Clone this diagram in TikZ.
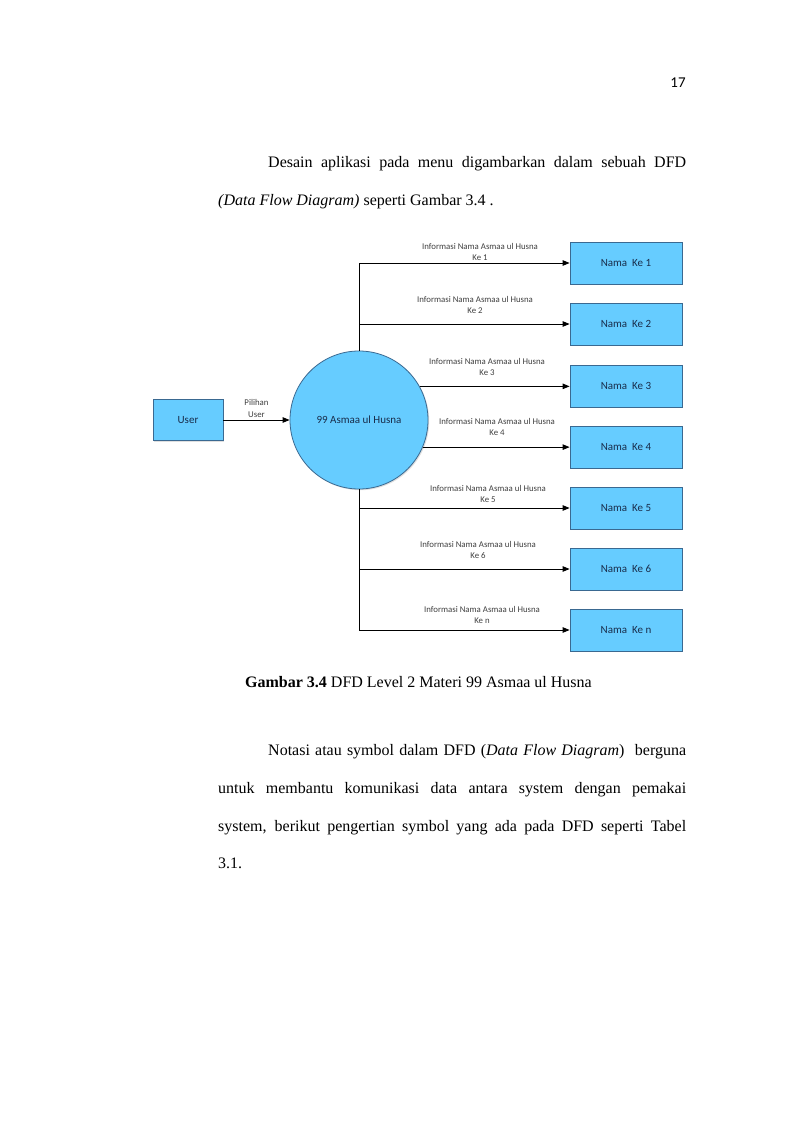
\documentclass[tikz,border=0pt]{standalone}
\usepackage{fontspec}
\setmainfont{Liberation Serif}
\newfontfamily\calibri{Carlito}
\usetikzlibrary{arrows.meta,shadows}
\definecolor{dfdfill}{RGB}{102,204,255}
\definecolor{dfdline}{RGB}{58,105,145}
\definecolor{dfdtext}{RGB}{25,45,75}
\tikzset{
  entity/.style={draw=dfdline,fill=dfdfill,line width=0.8pt,minimum width=112pt,minimum height=42pt,
    font=\calibri\fontsize{11}{13}\selectfont,text=dfdtext,
    drop shadow={shadow xshift=1.2pt,shadow yshift=-1.2pt,opacity=0.25}},
  process/.style={circle,draw=dfdline,fill=dfdfill,line width=0.8pt,minimum size=138pt,inner sep=0pt,
    font=\calibri\fontsize{11}{13}\selectfont,text=dfdtext,
    drop shadow={shadow xshift=1.2pt,shadow yshift=-1.2pt,opacity=0.25}},
  flow/.style={-{Triangle[length=7pt,width=5.5pt]},line width=0.9pt},
  flowlabel/.style={font=\calibri\fontsize{8.8}{11.5}\selectfont,text=black!75,align=center,inner sep=1pt},
  body/.style={anchor=base west,inner sep=0pt,font=\fontsize{16}{19}\selectfont},
  pagenum/.style={anchor=base,inner sep=0pt,font=\calibri\fontsize{15}{18}\selectfont}
}
\begin{document}
\begin{tikzpicture}[x=1pt,y=-1pt]
\useasboundingbox[fill=white] (0,0) rectangle (800,1132);
\node[pagenum] (hal) at (678,88) {17};

\node[body] (para1a) at (268,167) {\makebox[418pt][s]{Desain aplikasi pada menu digambarkan dalam sebuah DFD}};
\node[body] (para1b) at (218,205) {\textit{(Data Flow Diagram)} seperti Gambar 3.4 .};

% DFD level 2
\node[entity,minimum width=70pt,minimum height=41pt] (user) at (188,420) {User};
\node[process] (proses) at (359,420) {99 Asmaa ul Husna};
\foreach \i/\y in {1/263,2/324,3/386,4/447,5/508,6/569,n/630}
  \node[entity] (nama\i) at (626,\y) {Nama\ \ Ke \i};

\draw[flow] (user) -- node[flowlabel,above=1pt] (pilih) {Pilihan\\User} (proses);
\draw[line width=0.9pt] (proses.north) -- (proses.north |- nama1.west);
\draw[line width=0.9pt] (proses.south) -- (proses.south |- naman.west);
\foreach \i in {1,2,5,6,n}
  \draw[flow] (proses.center |- nama\i.west) -- (nama\i.west);
\draw[flow] (proses.29.5) -- (proses.29.5 -| nama3.west);
\draw[flow] (proses.-23) -- (proses.-23 -| nama4.west);

\foreach \i/\x/\y in {1/480/252,2/475/305,3/487/367,4/497/427,5/488/494,6/478/550,n/482/615}
  \node[flowlabel] (info\i) at (\x,\y) {Informasi Nama Asmaa ul Husna\\Ke \i};

\node[body] (judul) at (245,687) {\textbf{Gambar 3.4} DFD Level 2 Materi 99 Asmaa ul Husna};

\node[body] (para2a) at (268,755) {\makebox[418pt][s]{Notasi atau symbol dalam DFD (\textit{Data Flow Diagram})\ \ berguna}};
\node[body] (para2b) at (218,793) {\makebox[468pt][s]{untuk membantu komunikasi data antara system dengan pemakai}};
\node[body] (para2c) at (218,831) {\makebox[468pt][s]{system, berikut pengertian symbol yang ada pada DFD seperti Tabel}};
\node[body] (para2d) at (218,868) {3.1.};
\end{tikzpicture}
\end{document}
